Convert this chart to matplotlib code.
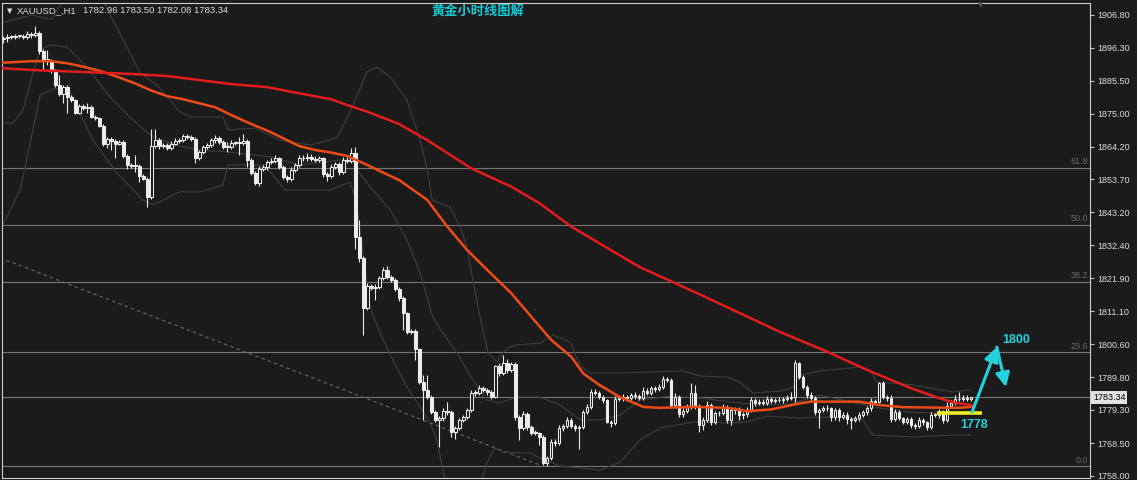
import numpy as np
import matplotlib
matplotlib.use("Agg")
import matplotlib.pyplot as plt
from matplotlib.transforms import blended_transform_factory

plt.rcParams['font.family'] = ['Liberation Sans', 'DejaVu Sans']

# ---- data (XAUUSD H1) ----
first_open = 1898.9
closes = [
    1899.4, 1899.8, 1899.7, 1900.1, 1900.0, 1899.7, 1900.7, 1900.3, 1901.1, 1895.3,
    1892.5, 1892.0, 1889.0, 1884.2, 1881.3, 1883.6, 1880.4, 1879.4, 1875.3, 1877.4,
    1876.8, 1877.1, 1874.0, 1873.5, 1871.0, 1865.2, 1866.8, 1866.1, 1865.2, 1865.8,
    1861.3, 1858.4, 1858.0, 1858.2, 1854.8, 1853.9, 1848.1, 1864.5, 1866.4, 1864.5,
    1864.8, 1863.9, 1865.2, 1866.2, 1866.4, 1867.7, 1867.4, 1866.8, 1860.6, 1862.6,
    1864.2, 1864.8, 1866.4, 1867.1, 1865.9, 1864.3, 1864.2, 1865.5, 1865.5, 1865.6,
    1866.2, 1860.0, 1855.9, 1852.5, 1857.0, 1857.7, 1859.4, 1859.8, 1860.6, 1857.8,
    1854.6, 1853.9, 1856.8, 1858.4, 1860.5, 1860.6, 1861.0, 1860.3, 1860.0, 1860.6,
    1855.5, 1854.8, 1857.8, 1858.7, 1856.2, 1860.0, 1859.8, 1862.4, 1835.2, 1828.3,
    1812.1, 1819.3, 1818.7, 1819.0, 1821.8, 1824.5, 1822.3, 1821.3, 1818.3, 1815.3,
    1810.5, 1804.6, 1804.8, 1798.9, 1788.4, 1785.7, 1783.4, 1778.7, 1776.1, 1776.6,
    1779.1, 1778.6, 1772.3, 1773.4, 1776.1, 1776.9, 1779.3, 1784.7, 1784.8, 1786.3,
    1785.7, 1785.1, 1783.6, 1793.5, 1791.2, 1794.6, 1792.2, 1794.1, 1777.1, 1773.4,
    1778.0, 1773.9, 1772.0, 1771.8, 1770.7, 1762.1, 1763.7, 1769.1, 1768.5, 1773.4,
    1774.1, 1776.1, 1774.1, 1773.5, 1773.8, 1778.7, 1780.3, 1785.2, 1784.8, 1783.5,
    1782.5, 1775.5, 1775.1, 1782.8, 1783.1, 1783.5, 1783.1, 1784.1, 1783.8, 1783.1,
    1785.5, 1784.8, 1786.3, 1786.1, 1786.8, 1789.2, 1789.0, 1780.9, 1783.6, 1778.0,
    1779.1, 1780.2, 1784.9, 1780.6, 1774.5, 1776.1, 1780.9, 1775.5, 1778.2, 1778.3,
    1780.3, 1776.1, 1779.3, 1779.5, 1777.7, 1777.9, 1779.3, 1782.5, 1781.6, 1781.9,
    1781.6, 1782.7, 1782.2, 1782.4, 1782.5, 1782.8, 1783.1, 1783.6, 1794.4, 1790.0,
    1786.8, 1784.1, 1783.1, 1778.7, 1779.3, 1779.9, 1779.8, 1777.1, 1779.3, 1777.1,
    1777.7, 1776.4, 1776.1, 1776.7, 1777.7, 1778.7, 1779.8, 1782.2, 1782.0, 1787.9,
    1783.6, 1783.1, 1776.3, 1778.7, 1776.7, 1775.5, 1776.4, 1774.4, 1774.2, 1776.1,
    1775.4, 1773.9, 1777.7, 1777.6, 1778.7, 1776.1, 1780.6, 1781.5, 1782.7, 1782.8,
    1783.1, 1782.96, 1783.34,
]
upper_wick = [
    0.6, 0.9, 0.5, 0.7, 0.4, 0.6, 0.8, 0.5, 2.2, 0.4,
    0.5, 3.0, 0.6, 0.5, 3.2, 0.7, 0.6, 0.5, 0.4, 0.8,
    0.6, 1.2, 0.5, 0.6, 0.5, 0.6, 0.7, 0.5, 0.6, 0.8,
    0.5, 0.6, 0.7, 3.4, 0.5, 0.6, 0.5, 5.4, 3.5, 0.8,
    0.7, 0.6, 0.8, 0.9, 0.6, 0.8, 0.7, 0.6, 0.5, 0.7,
    0.6, 0.8, 0.7, 0.9, 0.5, 0.6, 1.6, 0.8, 0.6, 1.9,
    2.2, 0.5, 0.6, 0.5, 0.9, 0.7, 0.6, 0.8, 1.0, 0.5,
    0.6, 0.5, 0.8, 0.7, 1.2, 0.9, 1.1, 0.8, 0.9, 0.7,
    0.5, 0.6, 0.8, 0.7, 0.6, 0.9, 1.0, 1.4, 1.7, 5.4,
    0.6, 1.0, 0.8, 0.9, 0.8, 1.1, 1.2, 0.6, 0.5, 0.6,
    0.7, 0.5, 0.8, 0.6, 0.5, 2.2, 4.9, 0.6, 0.5, 0.8,
    0.7, 2.9, 0.6, 0.8, 0.7, 0.9, 0.8, 1.2, 0.9, 1.0,
    0.8, 0.7, 0.6, 0.3, 0.9, 2.4, 1.0, 0.8, 0.6, 0.5,
    1.1, 0.7, 0.6, 0.8, 0.5, 0.6, 0.9, 0.8, 0.7, 0.9,
    0.8, 1.0, 0.7, 0.6, 0.7, 0.6, 0.9, 1.0, 0.8, 0.7,
    0.6, 0.5, 0.6, 1.0, 0.8, 0.9, 0.7, 0.8, 1.0, 0.7,
    1.1, 0.8, 0.9, 0.7, 1.0, 1.1, 0.8, 0.6, 1.2, 0.5,
    0.9, 1.0, 3.0, 2.5, 0.6, 0.8, 1.4, 0.7, 0.9, 0.8,
    1.0, 0.6, 0.9, 0.8, 0.7, 0.8, 0.9, 1.1, 0.8, 1.0,
    0.9, 1.0, 0.8, 0.9, 1.1, 0.8, 1.0, 1.6, 1.0, 0.5,
    0.6, 0.5, 0.9, 0.6, 0.8, 0.7, 0.9, 0.6, 0.8, 0.7,
    0.8, 1.0, 0.6, 0.7, 0.8, 0.6, 0.9, 1.0, 0.8, 0.5,
    0.6, 0.7, 0.9, 0.8, 0.6, 0.5, 0.8, 0.6, 0.7, 0.9,
    0.6, 0.5, 0.9, 0.7, 0.8, 0.6, 1.2, 0.9, 1.3, 2.4,
    1.2, 1.2, 0.16,
]
lower_wick = [
    1.0, 1.2, 0.6, 0.8, 0.5, 0.7, 0.6, 0.9, 0.5, 1.0,
    3.5, 1.3, 0.8, 0.5, 0.6, 2.8, 5.1, 0.6, 0.5, 0.6,
    0.7, 1.5, 0.4, 0.5, 0.5, 0.6, 1.4, 2.9, 4.7, 0.5,
    0.5, 1.4, 0.6, 1.8, 1.8, 0.5, 3.4, 0.6, 0.7, 0.8,
    0.6, 0.8, 0.7, 0.5, 0.6, 0.7, 0.6, 0.8, 1.7, 0.6,
    0.7, 0.6, 0.5, 0.8, 0.6, 0.7, 1.5, 0.6, 0.8, 3.9,
    0.7, 2.2, 0.6, 0.6, 0.8, 0.7, 0.9, 0.6, 0.7, 0.8,
    0.6, 0.9, 0.7, 0.8, 0.6, 0.7, 0.9, 0.6, 0.8, 0.7,
    1.0, 1.5, 0.7, 0.8, 0.9, 0.6, 0.7, 0.8, 4.0, 1.1,
    8.6, 0.5, 0.8, 4.0, 0.7, 0.6, 0.8, 0.7, 0.6, 0.9,
    5.4, 0.8, 0.7, 3.5, 0.8, 9.6, 0.7, 0.6, 0.8, 8.7,
    0.7, 0.8, 1.6, 2.5, 0.7, 0.8, 0.6, 0.7, 0.9, 0.8,
    0.7, 0.8, 0.6, 0.5, 0.9, 0.7, 0.8, 0.6, 0.9, 3.8,
    0.7, 1.0, 0.8, 0.6, 2.7, 0.6, 0.8, 0.5, 0.7, 0.6,
    0.8, 0.7, 0.6, 0.9, 6.9, 0.5, 0.7, 0.6, 0.8, 0.7,
    0.8, 0.5, 1.4, 0.6, 0.7, 0.8, 0.9, 0.6, 0.8, 0.7,
    0.6, 0.8, 0.7, 0.9, 0.6, 0.7, 0.8, 1.0, 0.7, 0.9,
    0.8, 0.7, 0.6, 0.9, 2.2, 1.5, 0.7, 1.2, 0.8, 0.9,
    0.7, 1.0, 1.5, 1.3, 1.5, 1.4, 0.8, 0.7, 0.9, 0.6,
    0.7, 0.6, 0.8, 0.7, 0.6, 0.8, 0.7, 0.6, 1.7, 0.8,
    0.7, 0.8, 0.9, 1.0, 5.3, 0.8, 0.7, 1.5, 0.9, 1.5,
    0.8, 1.5, 3.0, 0.7, 0.8, 0.6, 0.9, 0.7, 0.8, 0.6,
    0.7, 0.8, 0.9, 0.6, 0.7, 0.8, 0.6, 0.9, 1.0, 0.7,
    0.8, 1.0, 0.6, 0.7, 0.8, 0.9, 0.6, 0.7, 0.5, 0.6,
    0.7, 0.6, 0.88,
]

# moving averages (bar index, price)
red_ma_idx = [0, 8, 24, 33, 41, 49, 57, 66, 74, 82, 86, 91, 99, 106, 117, 127, 134,
              142, 151, 159, 174, 194, 206, 216, 222, 227, 234, 238, 242]
red_ma = [1889.6, 1889.0, 1888.2, 1887.7, 1887.1, 1885.8, 1884.5, 1883.5, 1881.5,
          1879.6, 1877.7, 1875.6, 1871.6, 1866.4, 1857.3, 1851.4, 1846.1, 1838.5,
          1831.6, 1825.5, 1816.7, 1804.6, 1798.1, 1792.2, 1789.0, 1786.3, 1783.1,
          1781.6, 1780.9]
orange_ma_idx = [0, 7, 12, 16, 20, 24, 28, 33, 37, 41, 45, 49, 53, 57, 62, 66, 70, 74,
                 78, 82, 86, 91, 95, 99, 106, 111, 116, 121, 127, 132, 137, 142, 145,
                 149, 154, 160, 164, 173, 181, 186, 192, 199, 202, 214, 219, 225, 239, 242]
orange_ma = [1891.4, 1891.9, 1891.9, 1891.2, 1890.1, 1888.8, 1887.1, 1884.7, 1882.4,
             1880.6, 1879.6, 1878.3, 1877.0, 1874.5, 1871.6, 1869.5, 1867.0, 1864.5,
             1863.2, 1862.4, 1861.3, 1858.4, 1855.9, 1853.5, 1847.1, 1838.5, 1830.9,
             1824.5, 1817.0, 1809.4, 1801.9, 1796.5, 1791.1, 1787.4, 1783.6, 1780.3,
             1780.0, 1780.3, 1780.0, 1778.9, 1779.5, 1781.4, 1782.0, 1782.0, 1780.9,
             1780.2, 1780.0, 1780.3]

# bollinger bands
bb_up_idx = [0, 4.2, 7.2, 10.4, 12.2, 14.2, 16.7, 22.9, 24.9, 27.4, 30.9, 34.2, 38.4,
             44.2, 46.7, 54.9, 56.2, 62.9, 69.2, 76.7, 83.4, 86.7, 89.2, 90.9, 93.4,
             96.7, 100.9, 104.2, 106.2, 107.2, 111.7, 114.2, 115.9, 117.4, 119.2, 121.2,
             123.4, 125.9, 128.4, 134.2, 137.4, 141.7, 144.2, 146.7, 154.2, 162.4, 169.9,
             174.2, 180.9, 184.2, 187.4, 194.2, 197.4, 199.2, 204.2, 214.2, 216.7, 218.4,
             227.4, 237.4, 241.7]
bb_up = [1904.5, 1905.8, 1906.8, 1905.8, 1905.5, 1910.0, 1914.9, 1914.9, 1911.6, 1905.2,
         1896.5, 1888.1, 1884.2, 1875.5, 1873.9, 1873.9, 1869.7, 1870.3, 1866.4, 1864.8,
         1867.1, 1875.5, 1883.2, 1888.4, 1890.0, 1886.8, 1879.4, 1866.4, 1855.8, 1847.1,
         1844.8, 1838.4, 1831.9, 1821.3, 1809.3, 1797.7, 1794.8, 1799.3, 1800.3, 1800.9,
         1803.5, 1801.2, 1793.8, 1791.2, 1791.2, 1791.6, 1791.9, 1790.3, 1789.9, 1788.3,
         1784.8, 1785.4, 1786.4, 1790.6, 1791.9, 1793.2, 1792.2, 1788.3, 1787.4, 1785.1,
         1785.8]
bb_mid_idx = [0, 2.4, 4.9, 7.4, 9.2, 11.7, 15.9, 20.9, 26.7, 32.4, 36.7, 42.9, 49.2,
              56.2, 66.7, 74.2, 84.2, 87.4, 88.4, 92.4, 96.7, 100.9, 104.2, 107.4, 109.9,
              113.4, 117.4, 120.9, 124.2, 128.4, 134.2, 139.2, 144.2, 149.2, 154.2, 159.2,
              166.7, 174.2, 181.7, 189.2, 196.7, 204.2, 211.7, 219.2, 226.7, 234.2, 241.7]
bb_mid = [1871.9, 1871.9, 1876.1, 1888.1, 1895.5, 1897.1, 1896.5, 1890.0, 1880.3, 1872.9,
          1868.1, 1864.8, 1863.2, 1862.6, 1861.0, 1858.4, 1860.0, 1860.0, 1856.8, 1850.3,
          1843.9, 1834.2, 1823.5, 1809.3, 1804.1, 1797.7, 1789.0, 1782.5, 1781.6, 1783.5,
          1783.5, 1780.9, 1776.1, 1776.1, 1777.7, 1782.5, 1783.8, 1783.2, 1781.9, 1780.9,
          1781.2, 1784.1, 1781.9, 1779.9, 1778.6, 1778.3, 1778.9]
bb_low_idx = [0, 4.2, 7.4, 9.2, 12.9, 16.7, 22.4, 28.4, 34.9, 37.4, 44.2, 49.2, 54.9,
              56.2, 65.4, 70.4, 81.7, 86.7, 88.2, 91.7, 94.2, 97.4, 100.9, 104.2, 106.7,
              108.4, 109.9, 110.9, 119.2, 120.9, 122.9, 124.9, 131.7, 134.2, 139.2, 144.2,
              149.2, 154.2, 159.2, 164.2, 172.4, 180.9, 185.9, 190.9, 199.2, 204.2, 210.9,
              214.9, 217.4, 227.4, 237.4, 241.7]
bb_low = [1839.3, 1850.3, 1869.7, 1880.9, 1883.2, 1881.9, 1866.4, 1855.8, 1847.1, 1845.5,
          1849.7, 1849.7, 1851.9, 1858.4, 1858.4, 1850.3, 1850.3, 1852.9, 1847.1, 1812.5,
          1804.1, 1795.4, 1786.7, 1780.3, 1775.1, 1769.6, 1759.9, 1755.1, 1755.1, 1762.2,
          1767.0, 1765.7, 1765.4, 1763.8, 1761.2, 1760.6, 1759.9, 1762.5, 1769.6, 1773.5,
          1775.4, 1775.1, 1775.4, 1777.3, 1776.7, 1777.0, 1777.0, 1776.1, 1771.2, 1770.6,
          1771.2, 1771.2]

fib_ratios = [0.0, 23.6, 38.2, 50.0, 61.8]
fib_low, fib_high = 1761.2, 1916.9

y_ticks = [1906.80, 1896.30, 1885.50, 1875.00, 1864.20, 1853.70, 1843.20, 1832.40,
           1821.90, 1811.10, 1800.60, 1789.80, 1779.30, 1768.50, 1758.00]
bid = 1783.34
symbol = "XAUUSD_,H1"
ohlc_text = "1782.96 1783.50 1782.08 1783.34"
title = "黄金小时线图解"

trend_idx = [-0.8, 134.2]
trend_price = [1828.4, 1761.5]
support_idx = [233.5, 244.7]
support = 1778.3
arrow_idx = [242.2, 248.4, 250.7]
arrow_price = [1778.6, 1799.6, 1786.7]
target_lbl = ("1800", 253.2, 1802.0)
support_lbl = ("1778", 242.6, 1774.3)

# ---- colours ----
BG = '#1b1b1b'
CANDLE = '#ececec'
CYAN = '#22d2de'
GRID = '#767676'
BAND = '#3e3e3e'

fig = plt.figure(figsize=(11.37, 4.8), dpi=100, facecolor=BG)
ax = fig.add_axes([2 / 1137, 2 / 480, 1088 / 1137, 475 / 480])
ax.set_facecolor(BG)
ax.set_xlim(-0.33, 271.7)
ax.set_ylim(1757.35, 1910.67)

# levels
for r in fib_ratios:
    p = fib_low + (fib_high - fib_low) * r / 100
    ax.axhline(p, color=GRID, lw=0.8, zorder=1)
    ax.text(0.998, p + 0.5, f"{r:.1f}", transform=blended_transform_factory(ax.transAxes, ax.transData),
            ha='right', va='bottom', fontsize=6.5, color='#6a6a6a')
ax.axhline(bid, color=GRID, lw=0.8, zorder=1)
ax.plot(trend_idx, trend_price, color='#6a6a6a', lw=0.8, ls=(0, (3, 3)), zorder=1)

# bands
for bi, bv in [(bb_up_idx, bb_up), (bb_mid_idx, bb_mid), (bb_low_idx, bb_low)]:
    ax.plot(bi, bv, color=BAND, lw=0.8, zorder=1.5)

# candles
c = np.array(closes)
o = np.array([first_open] + closes[:-1])
idx = np.arange(len(c))
top = np.maximum(o, c)
bot = np.minimum(o, c)
hi = top + np.array(upper_wick)
lo = bot - np.array(lower_wick)
ax.vlines(idx, lo, hi, color=CANDLE, lw=0.8, zorder=3)
h = np.maximum(top - bot, 0.25)
bull = c >= o
ax.bar(idx[bull], h[bull], bottom=bot[bull], width=0.62, facecolor=BG, edgecolor=CANDLE, lw=0.75, zorder=4)
ax.bar(idx[~bull], h[~bull], bottom=bot[~bull], width=0.62, facecolor=CANDLE, edgecolor=CANDLE, lw=0.75, zorder=4)

# moving averages
ax.plot(orange_ma_idx, orange_ma, color='#f04a16', lw=1.8, zorder=5)
ax.plot(red_ma_idx, red_ma, color='#e41c1c', lw=1.8, zorder=5)

# annotations
ax.plot(support_idx, [support, support], color='#eeee22', lw=2.6, solid_capstyle='butt', zorder=6)
for k in range(2):
    ax.annotate('', xy=(arrow_idx[k + 1], arrow_price[k + 1]), xytext=(arrow_idx[k], arrow_price[k]),
                arrowprops=dict(arrowstyle='-|>,head_length=0.7,head_width=0.35', color=CYAN,
                                lw=2.2, shrinkA=0, shrinkB=0, mutation_scale=12), zorder=7)
for s, xi, yp in [target_lbl, support_lbl]:
    ax.text(xi, yp, s, ha='center', va='center', fontsize=9, fontweight='bold', color=CYAN, zorder=7)

# axis
ax.yaxis.tick_right()
ax.set_yticks(y_ticks)
ax.set_yticklabels([f"{v:.2f}" for v in y_ticks])
ax.tick_params(axis='y', length=3, width=0.8, color='#c8c8c8', labelcolor='#dcdcdc', labelsize=6.5, pad=2.5)
ax.set_xticks([])
for sp in ax.spines.values():
    sp.set_color('#d0d0d0')
    sp.set_linewidth(0.8)

ax.text(1.0028, bid, f"{bid:.2f}", transform=blended_transform_factory(ax.transAxes, ax.transData),
        ha='left', va='center', fontsize=6.5, color='#000000', clip_on=False, zorder=10,
        bbox=dict(boxstyle='square,pad=0.18', fc='#e2e2e2', ec='none'))

# header
ty = 1 - 10.7 / 480
fig.text(9.5 / 1137, ty, '▼', fontsize=5, color='#e0e0e0', ha='center', va='center', family='DejaVu Sans')
fig.text(17 / 1137, ty, symbol, fontsize=6.8, color='#dcdcdc', ha='left', va='center')
fig.text(83 / 1137, ty, ohlc_text, fontsize=6.8, color='#dcdcdc', ha='left', va='center')
fig.text(478 / 1137, 1 - 12 / 480, title, fontsize=9.5, fontweight='bold', color='#14c8d6',
         ha='center', va='center', family=['Noto Sans CJK SC', 'DejaVu Sans'])
fig.text(981 / 1137, 1 - 5 / 480, '▼', fontsize=5, color='#5a5a5a', ha='center', va='center', family='DejaVu Sans')

fig.savefig('out.png', dpi=100, facecolor=BG)
